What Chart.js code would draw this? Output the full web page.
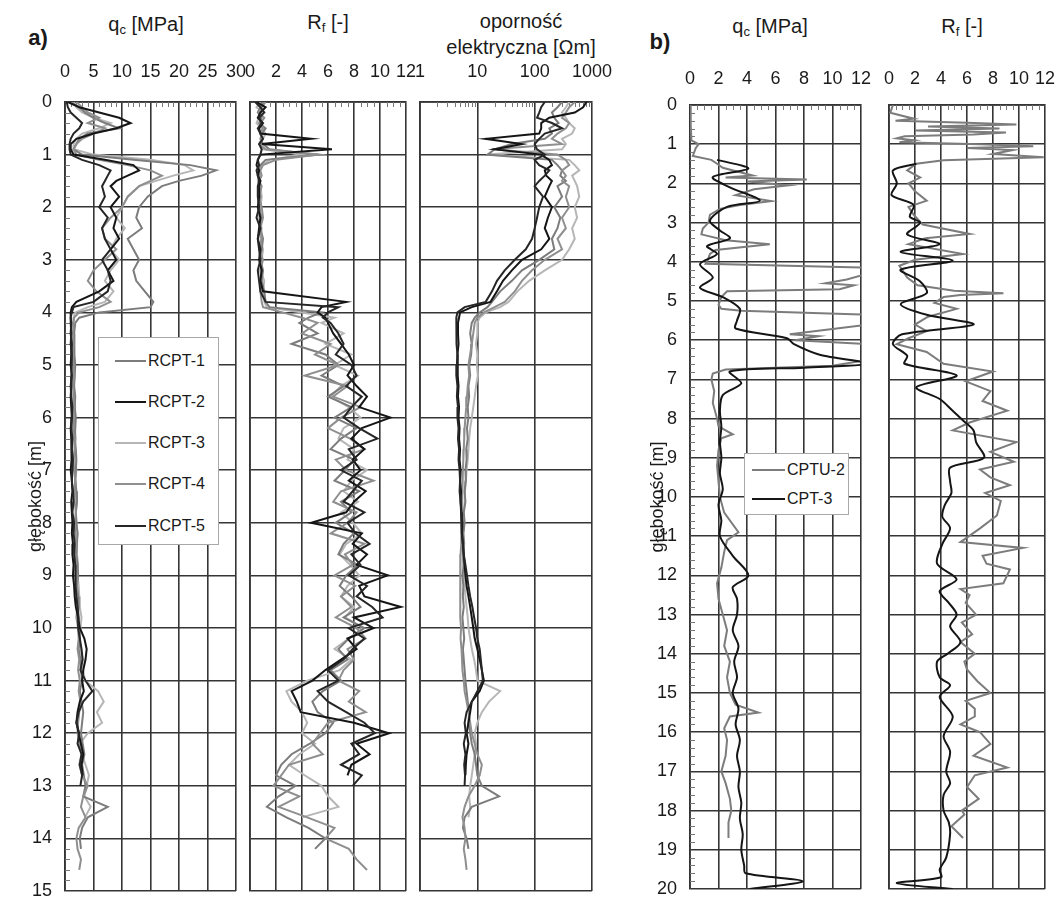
<!DOCTYPE html>
<html>
<head>
<meta charset="utf-8">
<script src="https://cdn.jsdelivr.net/npm/chart.js@4.4.0/dist/chart.umd.min.js"></script>
<style>
body { margin: 0; background: #fff; overflow: hidden; font-family: "Liberation Sans", Arial, sans-serif; color: #1a1a1a; }
#fig { position: relative; width: 1057px; height: 900px; }
.plot { position: absolute; }
.lbl { position: absolute; white-space: nowrap; transform: translate(-50%, -50%); font-size: 20px; }
.lbl sub { font-size: 13px; vertical-align: -3px; }
.tag { font-weight: bold; font-size: 22px; }
.legend { position: absolute; background: #fff; border: 1px solid #a8a8a8; }
.legend .row { position: absolute; height: 20px; margin-top: -10px; font-size: 16px; display: flex; align-items: center; white-space: nowrap; }
.legend .swatch { display: inline-block; height: 0; border-top: 2px solid; margin-right: 2px; }
</style>
</head>
<body>
<div id="fig">
  <div class="lbl tag" style="left:38px;top:38px">a)</div>
  <div class="lbl" style="left:146px;top:25px">q<sub>c</sub> [MPa]</div>
  <div class="lbl" style="left:328px;top:23px">R<sub>f</sub> [-]</div>
  <div class="lbl" style="left:521px;top:21px">oporność</div>
  <div class="lbl" style="left:521px;top:47px">elektryczna [Ωm]</div>
  <div class="lbl tag" style="left:660px;top:42px">b)</div>
  <div class="lbl" style="left:770px;top:27px">q<sub>c</sub> [MPa]</div>
  <div class="lbl" style="left:962px;top:27px">R<sub>f</sub> [-]</div>
</div>
<script>
// panel a: common depth grid [m]
const depthA = [
    0, 0.1, 0.2, 0.3, 0.4, 0.5, 0.6, 0.7, 0.8, 0.9, 1.0, 1.1, 1.2, 1.3, 1.4, 1.5, 1.6,
    1.8, 2.0, 2.2, 2.4, 2.6, 2.8, 3.0, 3.2, 3.4, 3.6, 3.8, 3.9, 4.0, 4.1, 4.2,
    4.4, 4.6, 4.8, 5.0, 5.2, 5.4, 5.6, 5.8, 6.0, 6.2, 6.4, 6.6, 6.8, 7.0, 7.2, 7.4, 7.6, 7.8, 8.0, 8.2, 8.4, 8.6, 8.8, 9.0, 9.2,
    9.4, 9.6, 9.8, 10.0, 10.2, 10.4, 10.6, 10.8, 11.0, 11.2, 11.4, 11.6, 11.8, 12.0, 12.2, 12.4, 12.6, 12.8, 13.0, 13.2, 13.4, 13.6, 13.8, 14.0, 14.2, 14.4, 14.6
];

// q_c [MPa]
const rcpt1Qc = [
    1.0, 2.5, 3.5, 5, 7, 9.5, 4, 2.5, 2, 1.5, 3, 12, 22, 26.5, 24, 20, 17,
    14.5, 13, 12.5, 13.5, 11, 12, 13, 12, 12.5, 14, 15.5, 15, 6, 2.5, 1.8,
    1.6, 1.7, 1.6, 1.8, 1.7, 1.6, 1.8, 1.7, 1.9, 1.8, 1.7, 1.9, 2.0, 1.9, 1.8, 2.0, 2.1, 1.9, 2.0, 2.2, 2.1, 2.0, 2.2, 2.3, 2.1,
    2.3, 2.4, 2.2, 2.5, 2.6, 2.4, 2.7, 2.8, 3.0, 2.6, 2.9, 3.2, 3.0, 2.8, 3.1, 3.4, 3.0, 3.3, 3.6, 3.2, 7.5, 4.0, 3.0, 2.6, 2.8
];
const rcpt2Qc = [
    0.5, 2.5, 6, 9.5, 11.5, 9, 5, 2, 1, 1, 1.5, 7, 12, 13, 11, 9, 8,
    9.5, 8, 9, 8.5, 9.5, 8, 9, 7.5, 8.5, 6, 2, 1.2, 1.0, 1.0, 1.1,
    1.0, 1.2, 1.1, 1.0, 1.2, 1.1, 1.0, 1.1, 1.2, 1.0, 1.1, 1.2, 1.1, 1.0, 1.2, 1.3, 1.1, 1.2, 1.3, 1.2, 1.4, 1.3, 1.5, 1.4, 1.6,
    1.7, 1.9, 2.3, 2.6, 3.4, 3.8, 3.6, 3.2, 3.0, 3.3, 2.6, 2.2, 2.0, 2.4, 2.8, 3.2, 2.9, 3.1
];
const rcpt3Qc = [
    1.5, 2, 3, 5, 8, 6, 3, 2, 1.5, 1.5, 5, 15, 21, 22.5, 19, 16, 13,
    11, 10, 9, 10.5, 9, 8, 9.5, 8, 7, 8.5, 7, 4, 1.8, 1.5, 1.4,
    1.5, 1.4, 1.6, 1.5, 1.7, 1.5, 1.6, 1.8, 1.6, 1.7, 1.9, 1.7, 1.8, 2.0, 1.8, 1.9, 2.1, 1.9, 2.0, 2.2, 2.0, 2.1, 2.3, 2.2, 2.4,
    2.5, 2.6, 2.9, 2.7, 2.5, 2.8, 3.0, 3.2, 3.5, 5.8, 6.8, 5.6, 6.5, 4.0, 2.6, 3.0, 3.6, 4.2, 3.8, 3.4, 4.5, 3.5
];
const rcpt4Qc = [
    2, 3, 4, 6, 4, 7, 5, 3, 2, 1.5, 2, 6, 11, 15, 17, 15, 13,
    11, 10, 8, 6.5, 7, 9, 7, 5, 4, 5.5, 8, 6, 2.5, 1.6, 1.5,
    1.4, 1.5, 1.3, 1.5, 1.6, 1.4, 1.5, 1.6, 1.5, 1.4, 1.6, 1.7, 1.5, 1.6, 1.8, 1.6, 1.7, 1.9, 1.7, 1.8, 2.0, 1.8, 1.9, 2.1, 2.0,
    2.1, 2.2, 2.0, 2.3, 2.4, 2.2, 2.5, 2.3, 2.6, 2.4, 2.7, 2.5, 2.3, 2.2, 2.6, 2.9, 2.5, 3.0, 4.0, 3.2, 2.8, 3.6, 2.4, 2.0, 2.2, 2.8, 2.5
];
const rcpt5Qc = [
    0.3, 0.5, 1, 2, 3, 2.5, 1.5, 1, 0.8, 0.8, 1, 3, 6, 8, 7.5, 7, 6.5,
    7, 6, 7.5, 6.5, 7, 8, 6.5, 7.5, 8, 7.5, 5, 1.5, 1.2, 1.0, 1.0,
    1.1, 1.0, 1.2, 1.1, 1.2, 1.0, 1.1, 1.3, 1.2, 1.1, 1.3, 1.2, 1.4, 1.3, 1.2, 1.4, 1.5, 1.3, 1.6, 1.5, 1.7, 1.6, 1.8, 1.9, 1.8,
    2.0, 2.2, 2.4, 2.3, 2.6, 2.9, 3.1, 2.7, 3.6, 4.8, 3.2, 2.4, 2.0, 2.5, 2.2, 2.9, 2.6, 3.0, 2.7
];

// R_f [-]
const rcpt1Rf = [
    1.0, 0.8, 0.6, 0.9, 0.7, 1.2, 0.9, 0.8, 1.0, 1.5, 5.2, 1.2, 0.8, 0.6, 0.7, 0.8, 0.7,
    0.8, 0.7, 0.9, 0.8, 1.0, 0.9, 0.8, 1.0, 0.9, 1.1, 1.2, 1.5, 5.5, 4.5, 3.8,
    5.2, 3.2, 5.8, 6.8, 5.5, 7.2, 6.0, 7.8, 6.5, 8.2, 7.0, 6.2, 8.0, 7.3, 6.5, 8.4, 7.0, 7.8, 6.6, 8.0, 7.2, 6.8, 8.3, 7.4, 6.9,
    7.8, 8.5, 7.2, 8.8, 7.6, 6.8, 7.5, 6.2, 7.0, 5.6, 4.8, 5.2, 6.4, 5.8, 4.6, 3.2, 2.4, 2.0, 3.5, 2.2, 1.3, 2.8, 4.5, 5.8, 5.0
];
const rcpt2Rf = [
    0.5, 1.2, 0.8, 0.6, 1.0, 0.7, 0.8, 4.7, 0.9, 6.3, 0.8, 0.6, 0.5, 0.7, 0.6, 0.8, 0.7,
    0.7, 0.6, 0.8, 0.7, 0.6, 0.8, 0.7, 0.9, 0.8, 1.0, 7.4, 5.5, 5.2, 5.8, 6.0,
    6.4, 7.0, 7.6, 8.0, 7.5, 8.2, 9.0, 8.4, 10.8, 8.6, 7.8, 8.8, 7.9, 8.5, 7.6, 8.9, 8.0, 7.4, 4.7, 8.6, 7.9, 9.0, 8.2, 10.6, 8.4,
    8.8, 11.6, 8.0, 9.5, 7.5, 8.2, 7.0, 5.8, 4.8, 3.2, 3.6, 3.9, 8.0, 10.7, 8.2, 9.2, 7.8, 7.5
];
const rcpt3Rf = [
    0.8, 0.5, 1.0, 0.7, 0.5, 0.9, 1.2, 1.0, 0.8, 1.0, 4.0, 1.5, 0.9, 0.7, 0.8, 0.6, 0.8,
    0.9, 0.8, 0.7, 0.9, 0.8, 1.0, 0.9, 0.8, 1.1, 1.0, 1.1, 1.3, 4.0, 6.5, 5.5,
    7.2, 5.8, 7.8, 6.5, 8.3, 7.0, 6.2, 7.6, 8.5, 7.2, 6.8, 8.0, 7.5, 9.0, 7.8, 7.2, 8.3, 7.0, 7.9, 8.6, 7.4, 6.9, 7.7, 8.4, 7.5,
    7.0, 8.0, 7.3, 8.7, 7.6, 6.5, 7.8, 6.9, 4.4, 2.8, 3.2, 4.0, 4.4, 4.0, 5.0, 3.8, 3.0, 4.2, 5.5, 6.0, 6.8, 4.0
];
const rcpt4Rf = [
    1.2, 0.9, 0.7, 1.1, 0.8, 1.0, 0.8, 0.9, 0.7, 1.2, 5.3, 2.0, 1.0, 0.8, 0.9, 0.7, 0.9,
    0.7, 0.9, 1.0, 0.8, 0.9, 0.7, 1.0, 0.8, 0.9, 0.8, 0.9, 1.0, 2.5, 4.0, 5.2,
    4.0, 6.2, 5.0, 6.8, 4.2, 7.5, 6.4, 8.5, 7.0, 6.0, 7.7, 8.8, 6.6, 7.4, 9.5, 7.0, 6.4, 8.2, 7.5, 6.2, 8.8, 7.3, 7.9, 6.5, 8.1,
    7.0, 7.8, 6.6, 8.2, 8.9, 7.5, 8.0, 7.2, 6.8, 8.4, 7.6, 8.9, 6.0, 5.4, 4.8, 5.6, 3.0, 2.4, 1.8, 3.8, 2.2, 4.4, 6.5, 5.8, 7.6, 8.2, 9.0
];
const rcpt5Rf = [
    0.4, 0.8, 1.1, 0.7, 0.9, 0.6, 0.8, 1.0, 0.7, 0.9, 0.8, 0.6, 0.7, 0.5, 0.6, 0.7, 0.6,
    0.6, 0.7, 0.5, 0.8, 0.6, 0.7, 0.8, 0.6, 0.7, 0.8, 1.2, 6.8, 6.0, 5.6, 6.2,
    6.8, 7.2, 6.6, 7.8, 8.2, 7.4, 8.6, 7.8, 7.2, 8.4, 9.8, 7.6, 8.2, 7.0, 8.6, 7.9, 7.2, 8.8, 7.5, 8.1, 9.2, 7.8, 8.5, 7.6, 9.0,
    8.2, 9.4, 10.2, 7.6, 8.8, 7.9, 7.2, 6.0, 6.8, 5.2, 6.0, 7.4, 8.8, 9.6, 7.8, 8.4, 7.0, 8.6, 7.9
];

// opornosc elektryczna [Ohm m]
const rcpt1Res = [
    300, 250, 200, 220, 260, 180, 200, 150, 40, 20, 15, 200, 250, 300, 280, 350, 250,
    300, 220, 280, 250, 200, 220, 120, 60, 40, 25, 18, 15, 11, 9, 8,
    7.5, 8, 7.8, 7.2, 7.5, 7, 7.2, 6.8, 7, 6.6, 6.8, 6.4, 6.5, 6.2, 6.3, 6.0, 6.2, 5.8, 6.0, 5.7, 5.9, 5.6, 5.8, 5.5, 5.7,
    5.6, 5.8, 5.5, 5.7, 5.9, 5.6, 5.8, 6.0, 6.2, 6.5, 6.8, 7.2, 7.0, 7.5, 8.0, 9.0, 9.5, 10, 12, 24, 8, 6, 5.6, 6.5, 7
];
const rcpt2Res = [
    800, 700, 500, 180, 130, 130, 120, 14, 60, 20, 130, 180, 200, 150, 160, 200, 180,
    150, 200, 170, 150, 180, 130, 60, 40, 28, 22, 17, 8, 5, 4.8, 4.6,
    4.6, 4.7, 4.5, 4.6, 4.5, 4.7, 4.6, 4.8, 4.7, 4.9, 4.8, 5.0, 4.9, 5.1, 5.0, 5.2, 5.1, 5.3, 5.5, 5.4, 5.6, 5.8, 6.0, 6.2, 6.5,
    7.0, 7.5, 8.0, 8.5, 9.0, 10, 11, 12, 13, 11, 8, 7.5, 7, 6.5, 7, 6.5, 6.3, 6.2
];
const rcpt3Res = [
    400, 350, 300, 350, 400, 500, 450, 300, 350, 300, 15, 400, 500, 600, 450, 500, 550,
    600, 500, 550, 450, 500, 400, 300, 150, 80, 50, 35, 25, 14, 11, 10,
    10, 9.5, 10, 9.8, 10.2, 9.5, 9, 8.5, 8, 7.5, 7.2, 7, 6.8, 6.5, 6.3, 6.1, 6.0, 5.8, 5.9, 5.7, 5.6, 5.8, 5.7, 5.9, 6.0,
    6.2, 6.5, 6.8, 7.0, 7.5, 8.0, 8.8, 9.5, 10, 25, 16, 12, 10, 9, 9.5, 9, 8.5, 8, 7.5, 7.2, 7.5, 7
];
const rcpt4Res = [
    500, 400, 350, 300, 400, 350, 250, 200, 300, 18, 250, 350, 400, 300, 350, 300, 400,
    350, 400, 300, 350, 250, 300, 150, 90, 60, 45, 30, 20, 13, 10, 9,
    8.5, 8, 7.5, 7, 7.2, 6.8, 6.6, 6.4, 6.2, 6.0, 5.9, 5.8, 5.7, 5.6, 5.5, 5.5, 5.4, 5.3, 5.3, 5.2, 5.2, 5.1, 5.1, 5.0, 5.0,
    5.0, 5.1, 5.0, 5.2, 5.1, 5.3, 5.4, 5.5, 5.8, 6.0, 6.5, 7.0, 7.5, 8, 9, 10, 12, 11, 9, 7, 6, 5.5, 6, 6.2, 5.8, 6.2, 6.5
];
const rcpt5Res = [
    150, 130, 120, 110, 200, 300, 150, 120, 100, 110, 150, 100, 120, 180, 150, 120, 100,
    140, 120, 110, 100, 90, 70, 45, 30, 22, 18, 14, 6, 4.5, 4.3, 4.3,
    4.4, 4.3, 4.5, 4.4, 4.3, 4.5, 4.4, 4.6, 4.5, 4.7, 4.6, 4.8, 4.7, 4.9, 5.0, 4.9, 5.1, 5.2, 5.4, 5.3, 5.6, 5.8, 6.2, 6.6, 7.0,
    7.5, 8.2, 8.8, 9.5, 10, 11, 11.5, 12, 12.5, 10, 8, 6.5, 6.0, 6.3, 5.8, 6.2, 5.9, 6.1, 6.0
];

// panel b
const cptu2QcDepth = [0, 0.5, 0.9, 1.0, 1.1, 1.3, 1.4, 1.5, 1.6, 1.8, 1.85, 1.9, 1.95, 2.05, 2.15, 2.3, 2.45, 2.55, 2.65, 2.8,
    3.0, 3.15, 3.3, 3.45, 3.55, 3.7, 3.8, 4.0, 4.05, 4.15, 4.3, 4.45, 4.55, 4.6, 4.7, 4.75, 4.9, 5.1, 5.2, 5.25,
    5.35, 5.6, 5.85, 5.9, 6.0, 6.1, 6.5, 6.65, 6.75, 6.85, 7.0, 7.3, 7.6, 8.0, 8.2, 8.4, 8.5, 8.8, 9.2, 9.6,
    10.0, 10.4, 10.9, 11.1, 11.4, 11.8, 12.2, 12.6, 13.0, 13.4, 13.8, 14.2, 14.6, 15.0, 15.3, 15.5, 15.6, 15.9, 16.2, 16.6,
    17.0, 17.3, 17.7, 18.0, 18.3, 18.7];
const cptu2Qc = [0.05, 0.05, 0.1, 0.6, 0.4, 0.2, 1.5, 1.9, 2.3, 4.4, 2.5, 8.2, 4.0, 6.9, 4.5, 3.2, 5.7, 3.5, 2.1, 1.4,
    1.3, 0.9, 0.8, 2.5, 5.6, 1.8, 1.4, 1.2, 1.1, 12.5, 12.5, 11.0, 9.5, 11.5, 10.5, 2.6, 2.2, 2.0, 2.2, 3.6,
    12.5, 12.5, 7.0, 9, 7.4, 12.5, 12.5, 10, 2.5, 1.6, 1.5, 1.7, 1.6, 1.9, 2.0, 3.0, 2.2, 2.0, 1.9, 2.0,
    2.1, 2.4, 3.4, 2.6, 2.4, 2.2, 1.9, 2.0, 2.3, 2.6, 2.4, 2.8, 2.6, 2.8, 3.2, 4.8, 2.8, 2.4, 2.6, 2.5,
    2.2, 2.5, 2.8, 2.9, 2.7, 2.7];
const cpt3QcDepth = [1.4, 1.62, 1.84, 2.1, 2.44, 2.6, 2.95, 3.2, 3.4, 3.6, 3.8, 4.06, 4.4, 4.66, 4.9, 5.2, 5.5, 5.7, 5.95, 6.1,
    6.37, 6.6, 6.7, 6.8, 7.1, 7.4, 7.8, 8.2, 8.6, 9.0, 9.4, 9.8, 10.2, 10.6, 11.0, 11.5, 12.0, 12.3, 12.6, 13.0,
    13.4, 13.8, 14.2, 14.6, 15.0, 15.4, 15.8, 16.2, 16.6, 17.0, 17.4, 17.8, 18.2, 18.6, 19.0, 19.4, 19.6, 19.8, 20.0];
const cpt3Qc = [1.9, 4.1, 1.6, 2.8, 4.9, 2.6, 1.4, 2.1, 2.8, 1.2, 1.9, 0.7, 1.6, 0.7, 2.3, 3.5, 3.3, 3.2, 6.8, 7.3,
    9.1, 12.5, 8, 2.8, 3.6, 2.3, 2.1, 2.2, 2.1, 2.2, 2.1, 2.3, 2.0, 2.2, 2.1, 3.0, 4.1, 3.0, 3.3, 3.3,
    3.0, 3.4, 3.1, 3.3, 3.0, 3.4, 3.2, 3.5, 3.3, 3.5, 3.4, 3.6, 3.5, 3.7, 3.6, 3.8, 3.9, 7.9, 4.2];
const cptu2RfDepth = [0, 0.2, 0.35, 0.4, 0.45, 0.5, 0.55, 0.6, 0.65, 0.7, 0.75, 0.8, 0.85, 0.9, 0.95, 1.0, 1.05, 1.1, 1.15, 1.25,
    1.33, 1.41, 1.5, 1.67, 1.85, 2.0, 2.2, 2.44, 2.6, 2.8, 3.05, 3.29, 3.4, 3.55, 3.8, 3.95, 4.1, 4.4, 4.6, 4.74,
    4.8, 4.85, 4.9, 5.05, 5.2, 5.4, 5.6, 5.77, 5.95, 6.1, 6.3, 6.6, 6.8, 7.05, 7.3, 7.55, 7.8, 8.1, 8.3, 8.6,
    8.85, 9.1, 9.3, 9.5, 9.7, 9.9, 10.1, 10.47, 10.8, 11.15, 11.3, 11.5, 11.7, 11.85, 12.2, 12.35, 12.5, 12.7, 13.0, 13.2,
    13.5, 13.7, 14.0, 14.2, 14.4, 14.7, 15.0, 15.2, 15.4, 15.6, 15.8, 16.0, 16.3, 16.6, 16.9, 17.1, 17.4, 17.7, 18.0, 18.1,
    18.4, 18.7];
const cptu2Rf = [0.3, 0.1, 1.9, 0.5, 6.0, 9.8, 3.0, 8.5, 2.0, 9.0, 6.5, 1.2, 0.6, 1.9, 0.8, 7.0, 11.1, 6.0, 9.5, 8.0,
    11.9, 4.2, 2.1, 1.4, 2.4, 1.5, 2.0, 2.9, 1.5, 1.9, 2.6, 6.2, 2.8, 1.5, 5.7, 2.0, 0.8, 1.4, 2.2, 5.0,
    8.8, 5.5, 4.2, 3.5, 5.2, 3.0, 2.0, 2.9, 1.5, 0.6, 2.9, 4.2, 8.0, 5.9, 7.8, 7.2, 9.1, 6.2, 4.9, 9.8,
    7.8, 9.6, 7.0, 7.8, 9.3, 7.4, 8.6, 8.3, 7.0, 5.5, 10.3, 7.2, 7.5, 9.3, 8.8, 5.5, 6.2, 5.9, 6.7, 5.6,
    6.4, 5.5, 6.6, 5.8, 6.0, 6.8, 7.8, 5.9, 6.6, 6.6, 5.5, 7.0, 7.8, 6.5, 9.1, 6.6, 6.0, 6.9, 5.6, 5.8,
    4.8, 5.7];
const cpt3RfDepth = [1.5, 1.67, 2.0, 2.3, 2.55, 2.85, 3.0, 3.3, 3.55, 3.75, 3.97, 4.2, 4.5, 4.8, 5.08, 5.35, 5.6, 5.85, 6.1, 6.4,
    6.6, 6.9, 7.2, 7.5, 7.8, 8.05, 8.3, 8.6, 9.0, 9.25, 9.6, 9.9, 10.2, 10.5, 10.8, 11.2, 11.7, 12.1, 12.4, 12.7,
    13.0, 13.3, 13.7, 14.0, 14.2, 14.6, 14.8, 15.1, 15.6, 16.1, 16.5, 17.0, 17.3, 17.6, 18.0, 18.3, 18.6, 19.2, 19.5, 19.7,
    19.85, 20.0];
const cpt3Rf = [2.1, 0.3, 0.6, 0.2, 1.9, 1.6, 2.4, 1.4, 3.9, 0.9, 4.9, 0.9, 2.4, 2.9, 0.9, 2.9, 6.5, 1.0, 0.3, 1.4,
    1.2, 5.2, 2.1, 3.9, 4.9, 5.7, 6.5, 6.7, 7.3, 4.7, 4.7, 4.8, 4.3, 4.1, 4.7, 4.1, 3.7, 5.2, 3.9, 4.6,
    5.2, 4.7, 5.5, 4.5, 3.7, 3.9, 4.7, 3.9, 4.9, 4.2, 4.7, 4.4, 4.7, 4.2, 4.2, 4.6, 4.7, 4.4, 3.9, 4.0,
    0.6, 4.9];

const namesA = ['RCPT-1', 'RCPT-2', 'RCPT-3', 'RCPT-4', 'RCPT-5'];
const namesB = ['CPTU-2', 'CPT-3'];
const resTicks = [1, 10, 100, 1000];

const colorsA = ['#7c7c7c', '#151515', '#b6b6b6', '#8f8f8f', '#262626'];
const colorsB = ['#7c7c7c', '#151515'];
const GRID = '#353535';

Chart.defaults.font.family = '"Liberation Sans", Arial, sans-serif';
Chart.defaults.color = '#1a1a1a';

const fig = document.getElementById('fig');

function toPoints(depth, values) {
    return values.map((v, i) => ({ x: v, y: depth[i] }));
}

function range(from, to, step, skip) {
    const out = [];
    for (let k = 0; from + k * step <= to + 1e-9; k++) {
        const v = +(from + k * step).toFixed(3);
        if (!skip(v)) out.push(v);
    }
    return out;
}

const minorTicks = {
    id: 'minorTicks',
    beforeDatasetsDraw(chart, args, opts) {
        const { ctx, chartArea: a, scales: { x, y } } = chart;
        ctx.save();
        ctx.strokeStyle = '#777';
        ctx.lineWidth = 1;
        ctx.beginPath();
        (opts.x || []).forEach(v => {
            const px = Math.round(x.getPixelForValue(v)) + 0.5;
            ctx.moveTo(px, a.top);
            ctx.lineTo(px, a.top + 5);
        });
        (opts.y || []).forEach(v => {
            const py = Math.round(y.getPixelForValue(v)) + 0.5;
            ctx.moveTo(a.left, py);
            ctx.lineTo(a.left + 5, py);
        });
        ctx.stroke();
        ctx.restore();
    }
};

function makeChart(cfg) {
    const w = cfg.r - cfg.l + cfg.padL + cfg.padR;
    const h = cfg.b - cfg.t + cfg.padT + cfg.padB;
    const wrap = document.createElement('div');
    wrap.className = 'plot';
    wrap.style.left = (cfg.l - cfg.padL) + 'px';
    wrap.style.top = (cfg.t - cfg.padT) + 'px';
    const cv = document.createElement('canvas');
    cv.width = w;
    cv.height = h;
    cv.style.width = w + 'px';
    cv.style.height = h + 'px';
    wrap.appendChild(cv);
    fig.appendChild(wrap);

    // fixed axis sizes; label overhang must not shrink the plot box
    const xScale = {
        type: cfg.xLog ? 'logarithmic' : 'linear',
        position: 'top',
        min: cfg.xMin,
        max: cfg.xMax,
        grid: { color: GRID, lineWidth: 1.6, drawTicks: false },
        border: { color: GRID, width: 1.8 },
        ticks: { autoSkip: false, maxRotation: 0, padding: cfg.xPad, font: { size: 18 } },
        afterFit: s => {
            s.height = cfg.padT;
            s.paddingLeft = 0;
            s.paddingRight = 0;
        }
    };
    if (cfg.xLog) {
        xScale.afterBuildTicks = s => { s.ticks = resTicks.map(v => ({ value: v })); };
        xScale.ticks.callback = v => String(v);
    } else {
        xScale.ticks.stepSize = cfg.xStep;
    }

    return new Chart(cv, {
        type: 'scatter',
        data: { datasets: cfg.datasets },
        options: {
            responsive: false,
            animation: false,
            devicePixelRatio: 1,
            layout: { padding: { left: 0, top: 0, right: cfg.padR, bottom: cfg.padB } },
            elements: { point: { radius: 0 } },
            scales: {
                x: xScale,
                y: {
                    type: 'linear',
                    reverse: true,
                    min: 0,
                    max: cfg.yMax,
                    grid: { color: GRID, lineWidth: 1.6, drawTicks: false },
                    border: { color: GRID, width: 1.8 },
                    ticks: { display: cfg.showY, stepSize: 1, autoSkip: false, padding: 13, font: { size: 18 } },
                    title: {
                        display: cfg.showY,
                        text: 'głębokość [m]',
                        font: { size: 18 },
                        padding: { top: cfg.titlePad || 0, bottom: 0 }
                    },
                    afterFit: s => {
                        s.width = cfg.padL;
                        s.paddingTop = 0;
                        s.paddingBottom = 0;
                    }
                }
            },
            plugins: {
                legend: { display: false },
                tooltip: { enabled: false },
                minorTicks: { x: cfg.minorX, y: cfg.minorY }
            }
        },
        plugins: [minorTicks]
    });
}

function lineSet(label, depth, values, color, order, tension) {
    return {
        label: label,
        data: toPoints(depth, values),
        showLine: true,
        borderColor: color,
        backgroundColor: color,
        borderWidth: 2,
        tension: tension || 0,
        order: order
    };
}

// darker lines are drawn on top
const orderA = [3, 1, 4, 2, 0];
const qcA = [rcpt1Qc, rcpt2Qc, rcpt3Qc, rcpt4Qc, rcpt5Qc];
const rfA = [rcpt1Rf, rcpt2Rf, rcpt3Rf, rcpt4Rf, rcpt5Rf];
const resA = [rcpt1Res, rcpt2Res, rcpt3Res, rcpt4Res, rcpt5Res];

const yMinorA = range(0, 15, 0.2, v => Math.abs(v - Math.round(v)) < 1e-6);
const yMinorB = range(0, 20, 0.2, v => Math.abs(v - Math.round(v)) < 1e-6);
const logMinor = [1, 10, 100].flatMap(d => [2, 3, 4, 5, 6, 7, 8, 9].map(m => m * d));

makeChart({
    l: 65, r: 236, t: 102, b: 891, padL: 50, padT: 45, padR: 20, padB: 14,
    xMin: 0, xMax: 30, xStep: 5, xPad: 19, yMax: 15, showY: true, titlePad: 10,
    minorX: range(0, 30, 1, v => v % 5 === 0), minorY: yMinorA,
    datasets: namesA.map((n, i) => lineSet(n, depthA, qcA[i], colorsA[i], orderA[i]))
});
makeChart({
    l: 250, r: 406, t: 102, b: 891, padL: 20, padT: 45, padR: 20, padB: 14,
    xMin: 0, xMax: 12, xStep: 2, xPad: 19, yMax: 15, showY: false,
    minorX: range(0, 12, 0.5, v => v % 2 === 0),
    datasets: namesA.map((n, i) => lineSet(n, depthA, rfA[i], colorsA[i], orderA[i]))
});
makeChart({
    l: 420, r: 592, t: 102, b: 891, padL: 20, padT: 45, padR: 20, padB: 14,
    xLog: true, xMin: 1, xMax: 1000, xPad: 19, yMax: 15, showY: false,
    minorX: logMinor,
    datasets: namesA.map((n, i) => lineSet(n, depthA, resA[i], colorsA[i], orderA[i]))
});
makeChart({
    l: 690, r: 861, t: 105, b: 889, padL: 50, padT: 45, padR: 20, padB: 14,
    xMin: 0, xMax: 12, xStep: 2, xPad: 15, yMax: 20, showY: true, titlePad: 7,
    minorX: range(0, 12, 0.5, v => v % 2 === 0), minorY: yMinorB,
    datasets: [
        lineSet(namesB[0], cptu2QcDepth, cptu2Qc, colorsB[0], 1),
        lineSet(namesB[1], cpt3QcDepth, cpt3Qc, colorsB[1], 0, 0.3)
    ]
});
makeChart({
    l: 889, r: 1045, t: 105, b: 889, padL: 20, padT: 45, padR: 12, padB: 14,
    xMin: 0, xMax: 12, xStep: 2, xPad: 15, yMax: 20, showY: false,
    minorX: range(0, 12, 0.5, v => v % 2 === 0),
    datasets: [
        lineSet(namesB[0], cptu2RfDepth, cptu2Rf, colorsB[0], 1),
        lineSet(namesB[1], cpt3RfDepth, cpt3Rf, colorsB[1], 0, 0.3)
    ]
});

function makeLegend(box, names, colors, rows, line) {
    const lg = document.createElement('div');
    lg.className = 'legend';
    Object.assign(lg.style, { left: box[0] + 'px', top: box[1] + 'px', width: box[2] + 'px', height: box[3] + 'px' });
    names.forEach((n, i) => {
        const row = document.createElement('div');
        row.className = 'row';
        row.style.top = rows[i] + 'px';
        row.style.left = line[0] + 'px';
        const sw = document.createElement('span');
        sw.className = 'swatch';
        sw.style.width = line[1] + 'px';
        sw.style.borderTopColor = colors[i];
        row.appendChild(sw);
        row.appendChild(document.createTextNode(n));
        lg.appendChild(row);
    });
    fig.appendChild(lg);
}

makeLegend([98, 337, 119, 206], namesA, colorsA, [23, 64, 105, 146, 188], [16, 31]);
makeLegend([744, 453, 103, 60], namesB, colorsB, [16, 45], [7, 33]);
</script>
</body>
</html>
